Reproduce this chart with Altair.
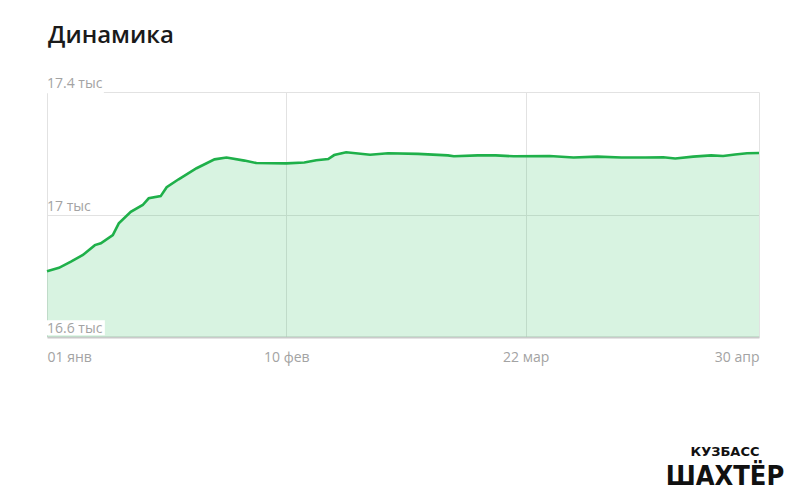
import altair as alt
import pandas as pd

# ---- data ----
dates = [
    "2021-01-01", "2021-01-03", "2021-01-05", "2021-01-07", "2021-01-09", "2021-01-10",
    "2021-01-12", "2021-01-13", "2021-01-15", "2021-01-17", "2021-01-18", "2021-01-20",
    "2021-01-21", "2021-01-23", "2021-01-26", "2021-01-29", "2021-01-31", "2021-02-03",
    "2021-02-05", "2021-02-10", "2021-02-13", "2021-02-15", "2021-02-17", "2021-02-18",
    "2021-02-20", "2021-02-24", "2021-02-27", "2021-03-04", "2021-03-09", "2021-03-10",
    "2021-03-14", "2021-03-17", "2021-03-20", "2021-03-26", "2021-03-30", "2021-04-03",
    "2021-04-07", "2021-04-11", "2021-04-14", "2021-04-16", "2021-04-19", "2021-04-22",
    "2021-04-24", "2021-04-26", "2021-04-28", "2021-04-30",
]
values = [
    16815, 16826, 16846, 16868, 16900, 16906,
    16933, 16971, 17009, 17031, 17053, 17060,
    17089, 17115, 17151, 17180, 17186, 17176,
    17168, 17167, 17170, 17177, 17181, 17194,
    17203, 17195, 17200, 17198, 17193, 17190,
    17193, 17193, 17190, 17191, 17186, 17189,
    17186, 17186, 17187, 17183, 17189, 17193,
    17191, 17196, 17200, 17201,
]

y_tick_values = [16600, 17000, 17400]
y_tick_labels = ["16.6 тыс", "17 тыс", "17.4 тыс"]
x_tick_dates = [(2021, 1, 1), (2021, 2, 10), (2021, 3, 22), (2021, 4, 30)]
month_names = ["янв", "фев", "мар", "апр", "май", "июн",
               "июл", "авг", "сен", "окт", "ноя", "дек"]

title_text = "Динамика"
logo_top = "КУЗБАСС"
logo_bottom = "ШАХТЁР"

# ---- tables ----
df = pd.DataFrame({"date": dates, "value": values})
ticks_df = pd.DataFrame({"date": [dates[0]] * 3, "value": y_tick_values, "label": y_tick_labels})
# white boxes behind the inside-plot labels (bottom and top-left)
box_df = pd.DataFrame({
    "date": [dates[0], dates[0]],
    "date2": ["2021-01-10T16:00:00Z", "2021-01-10T12:00:00Z"],
    "v": [16606, 17396],
    "v2": [16655, 17440],
})

x_dt = [alt.DateTime(year=y, month=m, date=d, utc=True) for (y, m, d) in x_tick_dates]
months_js = "[" + ",".join("'" + m + "'" for m in month_names) + "]"

GREEN = "#1fb04a"
LABEL = "#a3a3a3"
GRID = "#e2e2e2"
FONT = "Open Sans"

x_scale = alt.Scale(type="utc", domain=[x_dt[0], x_dt[-1]])
y_scale = alt.Scale(domain=[16600, 17400], nice=False, zero=False)

x_axis = alt.Axis(
    values=x_dt,
    labelExpr="utcFormat(datum.value, '%d') + ' ' + " + months_js + "[utcmonth(datum.value)]",
    labelFlush=True,
    labelBaseline="alphabetic",
    labelPadding=24,
    labelFont=FONT,
    labelFontSize=14,
    labelColor=LABEL,
    ticks=False,
    domain=True,
    domainColor="#cacaca",
    domainWidth=2,
    grid=True,
    gridColor=GRID,
    title=None,
)
y_axis = alt.Axis(
    values=[17000, 17400],
    labels=False,
    ticks=False,
    domain=False,
    grid=True,
    gridColor=GRID,
    title=None,
)

base = alt.Chart(df)

area = base.mark_area(color="#3cc46a", opacity=0.2).encode(
    x=alt.X("date:T", scale=x_scale, axis=x_axis),
    y=alt.Y("value:Q", scale=y_scale, axis=y_axis),
    y2=alt.datum(16600),
)

boxes = alt.Chart(box_df).mark_rect(color="white").encode(
    x="date:T", x2="date2:T", y="v:Q", y2="v2:Q"
)

line = base.mark_line(color=GREEN, strokeWidth=2.6).encode(
    x="date:T", y="value:Q"
)

ylabels = alt.Chart(ticks_df).mark_text(
    align="left", baseline="alphabetic", dx=0, dy=-4,
    font=FONT, fontSize=14, color=LABEL,
).encode(x="date:T", y="value:Q", text="label:N")

title = alt.Chart(pd.DataFrame({"t": [title_text]})).mark_text(
    align="left", baseline="alphabetic", font=FONT, fontWeight=600,
    fontSize=24, color="#1a1a1a",
).encode(text="t:N", x=alt.value(1), y=alt.value(-49))

logo1 = alt.Chart(pd.DataFrame({"t": [logo_top]})).mark_text(
    align="center", baseline="alphabetic", font="DejaVu Sans", fontWeight="bold",
    fontSize=13, color="#111111",
).encode(text="t:N", x=alt.value(678), y=alt.value(364))

logo2 = alt.Chart(pd.DataFrame({"t": [logo_bottom]})).mark_text(
    align="center", baseline="alphabetic", font="DejaVu Sans Condensed, DejaVu Sans", fontWeight="bold",
    fontSize=27, color="#111111",
).encode(text="t:N", x=alt.value(678), y=alt.value(393))

chart = alt.layer(area, boxes, line, ylabels, title, logo1, logo2).properties(
    width=712,
    height=245,
    autosize=alt.AutoSizeParams(type="none"),
    padding={"left": 39, "top": 84, "right": 33, "bottom": 155},
).configure_view(stroke=None)

chart.save("out.html", embed_options={"renderer": "svg", "actions": False})
